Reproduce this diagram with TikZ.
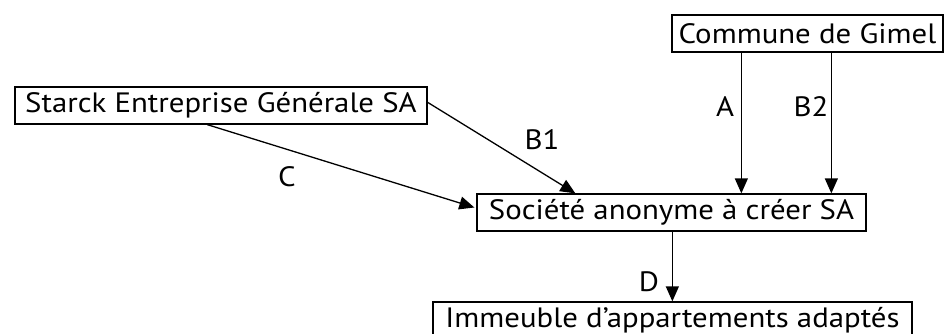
\documentclass[tikz,border=0pt]{standalone}
\usepackage{fontspec}
\setmainfont[FakeStretch=1.1]{PT Sans}
\usetikzlibrary{arrows.meta,calc}
\begin{document}
\begin{tikzpicture}[x=1pt,y=-1pt,
  box/.style={draw,line width=1.3pt,minimum height=37pt,inner sep=0pt,font=\fontsize{28}{32}\selectfont},
  conn/.style={line width=1.3pt,-{Triangle[length=15pt,width=13pt]}},
  lbl/.style={font=\fontsize{28}{32}\selectfont,inner sep=0pt}]
\clip (0,0) rectangle (944,333);
\node[box,minimum width=412pt] (starck) at (221,105.5) {Starck Entreprise Générale SA};
\node[box,minimum width=271pt] (commune) at (807.5,33.5) {Commune de Gimel};
\node[box,minimum width=389pt] (soc) at (671.5,212.5) {Société anonyme à créer SA};
\node[box,minimum width=479pt] (imm) at (672.5,320.5) {Immeuble d’appartements adaptés};
\draw[conn] ($(starck.south west)+(193,0)$) -- ($(soc.west)+(-2,-5)$);
\draw[conn] ($(starck.north east)+(0,16)$) -- ($(soc.north west)+(99,0)$);
\draw[conn] ($(commune.south west)+(70,0)$) -- ($(soc.north west)+(265,0)$);
\draw[conn] ($(commune.south west)+(160,0)$) -- ($(soc.north west)+(355,0)$);
\draw[conn] ($(soc.south west)+(196,0)$) -- ($(imm.north west)+(240,0)$);
\node[lbl] (lc) at (287,177) {C};
\node[lbl] (lb1) at (542,140) {B1};
\node[lbl] (la) at (725,107) {A};
\node[lbl] (lb2) at (811,107) {B2};
\node[lbl] (ld) at (649,282) {D};
\end{tikzpicture}
\end{document}
